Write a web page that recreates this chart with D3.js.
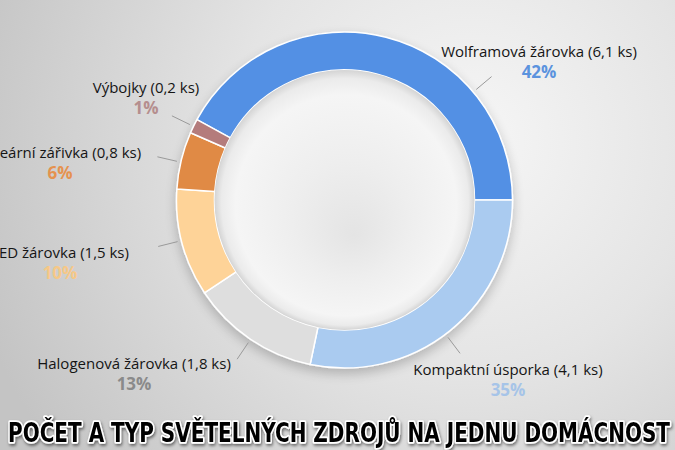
<!DOCTYPE html>
<html>
<head>
<meta charset="utf-8">
<script src="https://cdn.jsdelivr.net/npm/d3@7"></script>
<style>
  html, body { margin: 0; padding: 0; background: #ddd; }
  svg { display: block; }
</style>
</head>
<body>
<div id="chart"></div>
<script>
// data
var categories = ['Wolframová žárovka', 'Kompaktní úsporka', 'Halogenová žárovka', 'LED žárovka', 'Lineární zářivka', 'Výbojky'];
var counts = [6.1, 4.1, 1.8, 1.5, 0.8, 0.2];
var countLabels = ['6,1', '4,1', '1,8', '1,5', '0,8', '0,2'];
var percents = [42, 35, 13, 10, 6, 1];
var title = 'POČET A TYP SVĚTELNÝCH ZDROJŮ NA JEDNU DOMÁCNOST';

// styling / layout
var sliceColors = ['#5290e4', '#aacbf0', '#dedede', '#fed398', '#e08a45', '#b47c7c'];
var pctColors = ['#5b93de', '#a6c4e8', '#8a8a8a', '#f6c887', '#e5924f', '#b58e8e'];
var leaderAngles = [50, 143, -146, -104, -77, -64]; // degrees, clockwise from 12 o'clock
var labelPos = [[539, 57], [508, 375], [134, 369], [60, 258], [60, 158], [146, 93]];

var svgWidth = 675;
var svgHeight = 450;
var cx = 344.5, cy = 200;
var outerR = 168, innerR = 130;

var svg = d3.select('#chart').append('svg')
  .attr('width', svgWidth)
  .attr('height', svgHeight);

var defs = svg.append('defs');

var bg = defs.append('radialGradient').attr('id', 'bg')
  .attr('gradientUnits', 'userSpaceOnUse')
  .attr('cx', 470).attr('cy', 140).attr('r', 520);
bg.append('stop').attr('offset', '0%').attr('stop-color', '#f6f6f6');
bg.append('stop').attr('offset', '45%').attr('stop-color', '#e4e4e4');
bg.append('stop').attr('offset', '100%').attr('stop-color', '#c4c4c4');

// dish gradient lives in the chart group's coordinates (centre at 0,0)
var dish = defs.append('radialGradient').attr('id', 'dish')
  .attr('gradientUnits', 'userSpaceOnUse')
  .attr('cx', 0).attr('cy', 0).attr('r', innerR)
  .attr('fx', 10).attr('fy', 35);
dish.append('stop').attr('offset', '0%').attr('stop-color', '#e4e4e4');
dish.append('stop').attr('offset', '45%').attr('stop-color', '#eeeeee');
dish.append('stop').attr('offset', '85%').attr('stop-color', '#f5f5f5');
dish.append('stop').attr('offset', '95%').attr('stop-color', '#ebebeb');
dish.append('stop').attr('offset', '100%').attr('stop-color', '#d4d4d4');

var shadow = defs.append('filter').attr('id', 'shadow')
  .attr('x', '-20%').attr('y', '-20%').attr('width', '140%').attr('height', '140%');
shadow.append('feGaussianBlur').attr('in', 'SourceAlpha').attr('stdDeviation', 6);
shadow.append('feOffset').attr('dx', 0).attr('dy', 5).attr('result', 'blur');
shadow.append('feComponentTransfer').append('feFuncA').attr('type', 'linear').attr('slope', 0.22);
var merge = shadow.append('feMerge');
merge.append('feMergeNode');
merge.append('feMergeNode').attr('in', 'SourceGraphic');

var titleShadow = defs.append('filter').attr('id', 'tshadow');
titleShadow.append('feDropShadow').attr('dx', 1).attr('dy', 2).attr('stdDeviation', 1.5)
  .attr('flood-color', '#000').attr('flood-opacity', 0.5);

svg.append('rect')
  .attr('width', svgWidth)
  .attr('height', svgHeight)
  .attr('fill', 'url(#bg)');

var chartGroup = svg.append('g')
  .attr('transform', `translate(${cx}, ${cy})`);

// the first slice ends at 3 o'clock
var total = d3.sum(counts);
var startAngle = Math.PI / 2 - 2 * Math.PI * counts[0] / total;

var pie = d3.pie()
  .sort(null)
  .value(d => d)
  .startAngle(startAngle)
  .endAngle(startAngle + 2 * Math.PI);

var arc = d3.arc()
  .innerRadius(innerR)
  .outerRadius(outerR);

var slices = chartGroup.append('g')
  .attr('filter', 'url(#shadow)');

slices.selectAll('path')
  .data(pie(counts))
  .enter()
  .append('path')
  .attr('d', arc)
  .attr('fill', (d, i) => sliceColors[i])
  .attr('stroke', '#ffffff')
  .attr('stroke-width', 1.5)
  .attr('stroke-linejoin', 'round');

// inner dish
chartGroup.append('circle')
  .attr('r', innerR)
  .attr('fill', 'url(#dish)');

// leader lines
var leaderInner = d3.arc().innerRadius(outerR + 4).outerRadius(outerR + 4);
var leaderOuter = d3.arc().innerRadius(outerR + 24).outerRadius(outerR + 24);
var toArc = d => ({startAngle: d * Math.PI / 180, endAngle: d * Math.PI / 180});

chartGroup.selectAll('line.leader')
  .data(leaderAngles)
  .enter()
  .append('line')
  .attr('class', 'leader')
  .attr('x1', d => leaderInner.centroid(toArc(d))[0])
  .attr('y1', d => leaderInner.centroid(toArc(d))[1])
  .attr('x2', d => leaderOuter.centroid(toArc(d))[0])
  .attr('y2', d => leaderOuter.centroid(toArc(d))[1])
  .attr('stroke', '#9a9a9a')
  .attr('stroke-width', 1);

// labels
var labels = svg.append('g')
  .selectAll('g')
  .data(categories)
  .enter()
  .append('g')
  .attr('transform', (d, i) => `translate(${labelPos[i][0]}, ${labelPos[i][1]})`);

labels.append('text')
  .attr('text-anchor', 'middle')
  .attr('font-family', '"Open Sans", sans-serif')
  .attr('font-size', '15px')
  .attr('fill', '#151515')
  .text((d, i) => `${d} (${countLabels[i]} ks)`);

labels.append('text')
  .attr('text-anchor', 'middle')
  .attr('y', 21)
  .attr('font-family', '"Open Sans", sans-serif')
  .attr('font-weight', 'bold')
  .attr('font-size', '17px')
  .attr('fill', (d, i) => pctColors[i])
  .text((d, i) => percents[i] + '%');

// title
svg.append('text')
  .attr('x', 8)
  .attr('y', 442)
  .attr('textLength', 662)
  .attr('lengthAdjust', 'spacingAndGlyphs')
  .attr('font-family', '"DejaVu Sans Condensed", "DejaVu Sans", sans-serif')
  .attr('font-weight', 'bold')
  .attr('font-size', '26px')
  .attr('fill', '#000')
  .attr('stroke', '#ffffff')
  .attr('stroke-width', 3.5)
  .attr('stroke-linejoin', 'round')
  .attr('paint-order', 'stroke')
  .attr('filter', 'url(#tshadow)')
  .text(title);
</script>
</body>
</html>
